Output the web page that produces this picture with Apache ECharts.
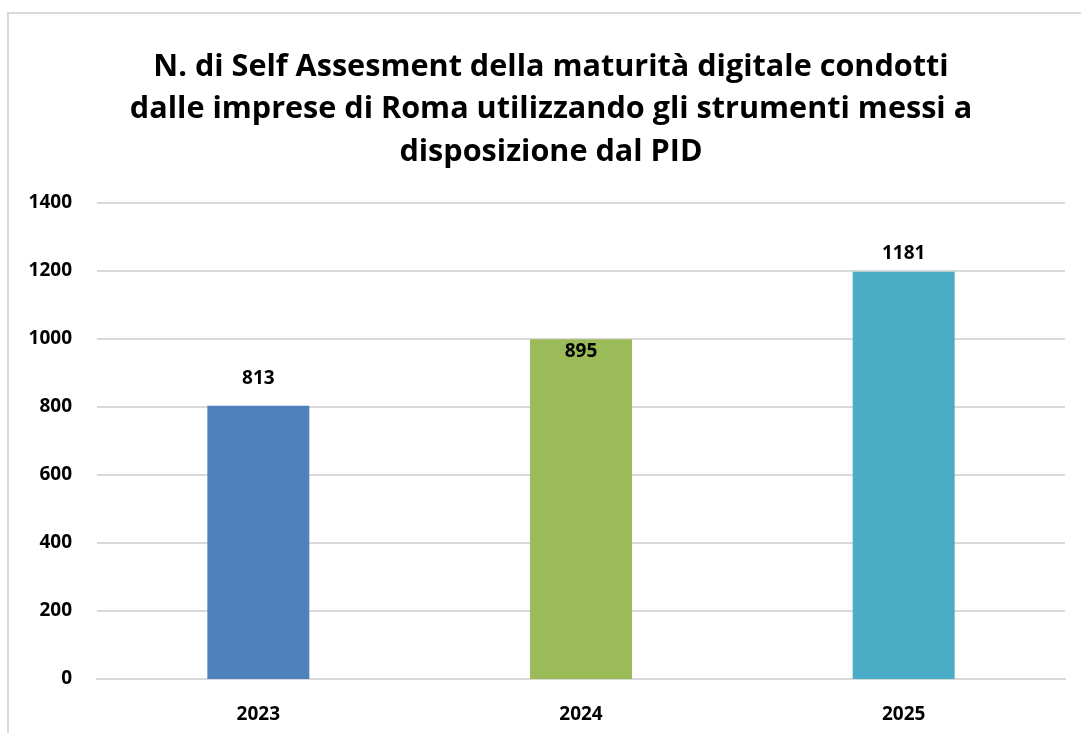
<!DOCTYPE html>
<html>
<head>
<meta charset="utf-8">
<script src="https://cdn.jsdelivr.net/npm/echarts@6/dist/echarts.min.js"></script>
<style>
html,body{margin:0;padding:0;background:#fff;}
#c{width:1081px;height:733px;}
</style>
</head>
<body>
<div id="c"></div>
<script>
const titleText = "N. di Self Assesment della maturità digitale condotti\ndalle imprese di Roma utilizzando gli strumenti messi a\ndisposizione dal PID";
const categories = ["2023", "2024", "2025"];
const barValues = [804, 999, 1198];
const labelValues = [813, 895, 1181];
const barColors = ["#4f81bd", "#9bbb59", "#4bacc6"];
const yTicks = [0, 200, 400, 600, 800, 1000, 1200, 1400];

const FONT = "'Open Sans', Lato, sans-serif";
const chart = echarts.init(document.getElementById('c'), null, {renderer: 'canvas'});
chart.setOption({
  backgroundColor: '#fff',
  animation: false,
  title: {
    text: titleText,
    left: 546, top: 41, textAlign: 'center',
    textStyle: {fontFamily: FONT, fontWeight: 'bold', fontSize: 30.6, lineHeight: 42.5, color: '#000'}
  },
  graphic: [
    {type: 'line', shape: {x1: 7, y1: 13, x2: 1081, y2: 13}, style: {stroke: '#d9d9d9', lineWidth: 2}},
    {type: 'line', shape: {x1: 8, y1: 12, x2: 8, y2: 733}, style: {stroke: '#d9d9d9', lineWidth: 2}}
  ],
  grid: {left: 97, right: 16, top: 203, bottom: 54, containLabel: false},
  xAxis: {
    type: 'category', data: categories,
    axisLine: {show: true, lineStyle: {color: '#d9d9d9', width: 2}},
    axisTick: {show: false},
    axisLabel: {margin: 26, fontFamily: FONT, fontWeight: 'bold', fontSize: 19, color: '#000'}
  },
  yAxis: {
    type: 'value', min: yTicks[0], max: yTicks[yTicks.length - 1], interval: 200,
    axisLine: {show: false}, axisTick: {show: false},
    splitLine: {lineStyle: {color: '#d9d9d9', width: 2}},
    axisLabel: {margin: 25, fontFamily: FONT, fontWeight: 'bold', fontSize: 19, color: '#000',
      formatter: v => String(v)}
  },
  series: [
    {
      type: 'bar', barWidth: '31.6%',
      data: barValues.map((v, i) => ({value: v, itemStyle: {color: barColors[i]}})),
      z: 2
    },
    {
      type: 'bar', barWidth: '31.6%', barGap: '-100%',
      data: labelValues,
      itemStyle: {color: 'rgba(0,0,0,0)'},
      label: {show: true, position: 'top', distance: 14, fontFamily: FONT, fontWeight: 'bold', fontSize: 19, color: '#000'},
      z: 3
    }
  ]
});
</script>
</body>
</html>
